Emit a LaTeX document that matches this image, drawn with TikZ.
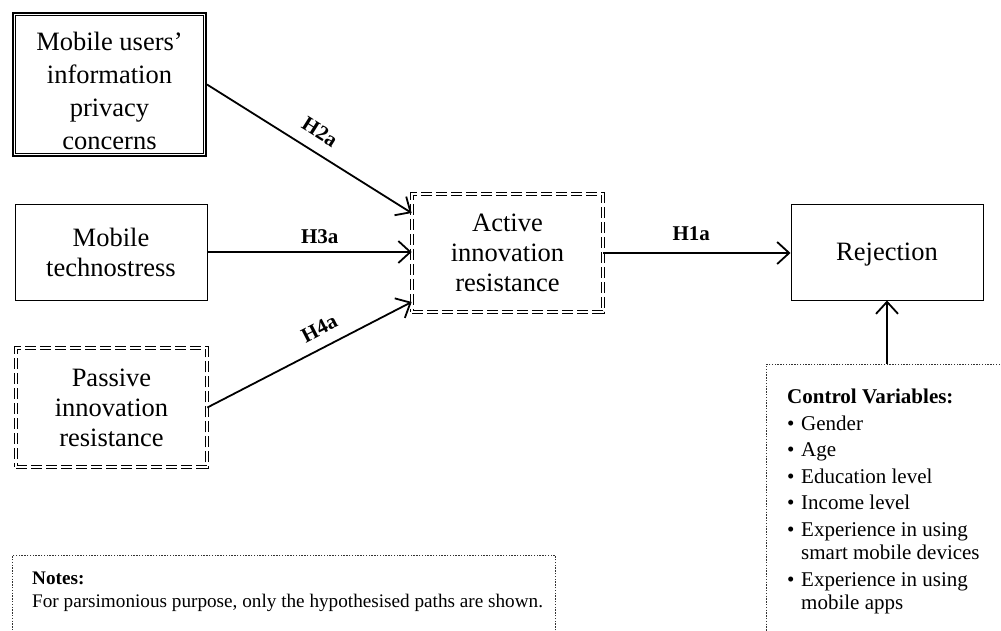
\documentclass[tikz,border=0pt]{standalone}
\usepackage{fontspec}
\setmainfont{Liberation Serif}
\usetikzlibrary{arrows.meta}
\tikzset{
  boxtext/.style={align=center, font=\fontsize{26.5}{30}\selectfont},
  plainbox/.style={boxtext, draw, line width=1pt, rectangle, minimum width=192pt, minimum height=96pt},
  dblbox/.style={draw, line width=1.6pt, rectangle, minimum width=193.4pt, minimum height=143.4pt},
  innerline/.style={line width=0.9pt},
  dashdbl/.style={boxtext, draw, double, double distance=2pt, line width=1.1pt, dash pattern=on 11pt off 4pt, minimum width=190.6pt, minimum height=118.6pt},
  dotbox/.style={draw=black!80, line width=0.8pt, dash pattern=on 1.4pt off 1.4pt, rectangle, anchor=north west, inner sep=0pt},
  arr/.style={line width=1.8pt, -{Straight Barb[length=12pt,width=22pt]}},
  hlab/.style={font=\fontsize{21}{24}\selectfont\bfseries, inner sep=0pt, sloped},
  smalltext/.style={font=\fontsize{21}{23.5}\selectfont, align=left, anchor=north west, inner sep=0pt},
  notetext/.style={font=\fontsize{19.2}{23}\selectfont, align=left, anchor=north west, inner sep=0pt},
}
\begin{document}
\begin{tikzpicture}[x=1pt,y=-1pt]
\useasboundingbox (0,0) rectangle (1001,630);
\clip (0,0) rectangle (1001,630);
\fill[white] (0,0) rectangle (1001,630);

\node[dblbox] (mupc) at (109.5,84.5) {};
\draw[innerline] ([shift={(3.6pt,-3.6pt)}]mupc.north west) rectangle ([shift={(-3.6pt,3.6pt)}]mupc.south east);
\node[boxtext, font=\fontsize{26.5}{33}\selectfont, inner sep=0pt] (mupctext) at (109.5,90.5) {Mobile users’\\information\\privacy\\concerns};
\node[plainbox] (mts) at (111,252) {Mobile\\technostress};
\node[dashdbl] (pir) at (111.5,407.5) {Passive\\innovation\\resistance};
\node[dashdbl] (air) at (507.5,253) {Active\\innovation\\resistance};
\node[plainbox, text depth=0pt] (rej) at (887,252) {Rejection};

\node[dotbox, minimum width=300pt, minimum height=300pt] (ctrl) at (766,364) {};
\node[smalltext] (ctrltext) at (787,389) {\textbf{Control Variables:}\\[3pt]
\makebox[14pt][l]{\textbullet}Gender\\[3pt]
\makebox[14pt][l]{\textbullet}Age\\[3pt]
\makebox[14pt][l]{\textbullet}Education level\\[3pt]
\makebox[14pt][l]{\textbullet}Income level\\[3pt]
\makebox[14pt][l]{\textbullet}Experience in using\\
\hspace*{14pt}smart mobile devices\\[3pt]
\makebox[14pt][l]{\textbullet}Experience in using\\
\hspace*{14pt}mobile apps};

\node[dotbox, minimum width=543pt, minimum height=120pt] (notes) at (12,555) {};
\node[notetext] (notestext) at (32,572) {\textbf{Notes:}\\For parsimonious purpose, only the hypothesised paths are shown.};

\draw[arr] (mupc.east) -- node[hlab, pos=0.5, above=12pt] (l2) {H2a} ([yshift=40pt]air.west);
\draw[arr] (mts.east) -- node[hlab, pos=0.55, above=7pt] (l3) {H3a} (mts.east -| air.west);
\draw[arr] (pir.east) -- node[hlab, pos=0.59, above=11pt] (l4) {H4a} ([yshift=-49pt]air.west);
\draw[arr] (air.east) -- node[hlab, pos=0.47, above=11pt] (l1) {H1a} (air.east -| rej.west);
\draw[arr] (rej.south |- ctrl.north) -- (rej.south);
\end{tikzpicture}
\end{document}
